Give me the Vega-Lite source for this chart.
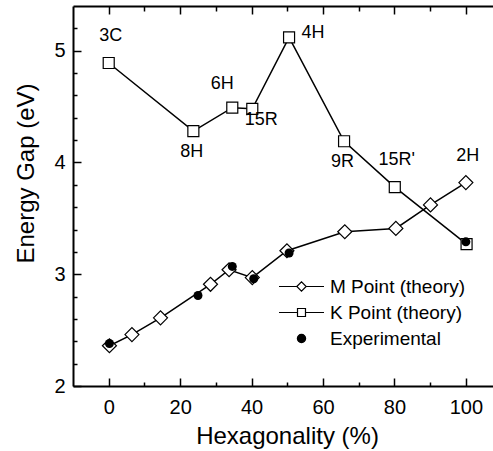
{
  "$schema": "https://vega.github.io/schema/vega-lite/v6.json",
  "width": 420,
  "height": 380,
  "autosize": {"type": "none"},
  "padding": {"left": 73, "top": 6, "right": 0, "bottom": 65},
  "background": "white",
  "config": {
    "view": {"stroke": null},
    "font": "Liberation Sans",
    "axis": {
      "grid": false,
      "domainColor": "black",
      "domainWidth": 2,
      "tickColor": "black",
      "tickWidth": 1.5,
      "labelFont": "Liberation Sans",
      "labelFontSize": 20,
      "labelColor": "black",
      "titleFont": "Liberation Sans",
      "titleFontSize": 24,
      "titleFontWeight": "normal",
      "titleColor": "black"
    },
    "legend": {
      "orient": "none", "legendX": 219, "legendY": 271, "symbolSize": 88,
      "symbolOpacity": 1, "symbolStrokeWidth": 1.2,
      "labelFontSize": 19, "labelFont": "Liberation Sans", "labelColor": "black",
      "labelOffset": 19, "rowPadding": 6, "padding": 0
    },
    "text": {"font": "Liberation Sans", "fontSize": 18, "color": "black"}
  },
  "data": {
    "values": [
      {"series": "M Point (theory)", "x": 0.2, "y": 2.36, "label": ""},
      {"series": "M Point (theory)", "x": 6.5, "y": 2.46, "label": ""},
      {"series": "M Point (theory)", "x": 14.5, "y": 2.61, "label": ""},
      {"series": "M Point (theory)", "x": 28.5, "y": 2.91, "label": ""},
      {"series": "M Point (theory)", "x": 33.7, "y": 3.04, "label": ""},
      {"series": "M Point (theory)", "x": 40.2, "y": 2.97, "label": ""},
      {"series": "M Point (theory)", "x": 49.9, "y": 3.21, "label": ""},
      {"series": "M Point (theory)", "x": 66.1, "y": 3.38, "label": ""},
      {"series": "M Point (theory)", "x": 80.4, "y": 3.41, "label": ""},
      {"series": "M Point (theory)", "x": 90.1, "y": 3.62, "label": ""},
      {"series": "M Point (theory)", "x": 100, "y": 3.82, "label": "2H"},
      {"series": "K Point (theory)", "x": 0, "y": 4.89, "label": "3C"},
      {"series": "K Point (theory)", "x": 23.7, "y": 4.28, "label": "8H"},
      {"series": "K Point (theory)", "x": 34.6, "y": 4.49, "label": "6H"},
      {"series": "K Point (theory)", "x": 40.2, "y": 4.48, "label": "15R"},
      {"series": "K Point (theory)", "x": 50.5, "y": 5.12, "label": "4H"},
      {"series": "K Point (theory)", "x": 65.9, "y": 4.19, "label": "9R"},
      {"series": "K Point (theory)", "x": 80.1, "y": 3.78, "label": "15R'"},
      {"series": "K Point (theory)", "x": 100.2, "y": 3.27, "label": ""},
      {"series": "Experimental", "x": 0.2, "y": 2.38, "label": ""},
      {"series": "Experimental", "x": 25, "y": 2.81, "label": ""},
      {"series": "Experimental", "x": 34.6, "y": 3.07, "label": ""},
      {"series": "Experimental", "x": 40.6, "y": 2.96, "label": ""},
      {"series": "Experimental", "x": 50.5, "y": 3.19, "label": ""},
      {"series": "Experimental", "x": 100, "y": 3.29, "label": ""}
    ]
  },
  "layer": [
    {
      "transform": [{"filter": {"field": "series", "oneOf": ["M Point (theory)", "K Point (theory)"]}}],
      "mark": {"type": "line", "color": "black", "strokeWidth": 1.5},
      "encoding": {
        "x": {"field": "x", "type": "quantitative", "scale": {"domain": [-10, 107.6], "nice": false, "zero": false},
          "axis": {"orient": "bottom", "title": "Hexagonality (%)", "values": [0, 20, 40, 60, 80, 100], "tickSize": -8, "labelPadding": 19, "titlePadding": 7, "titleX": 214}},
        "y": {"field": "y", "type": "quantitative", "scale": {"domain": [2, 5.4], "nice": false, "zero": false},
          "axis": {"orient": "left", "title": "Energy Gap (eV)", "values": [2, 3, 4, 5], "tickSize": -8, "labelPadding": 16, "titlePadding": 15, "titleY": 167}},
        "detail": {"field": "series"}
      }
    },
    {
      "transform": [{"filter": {"field": "series", "oneOf": ["M Point (theory)", "K Point (theory)"]}}],
      "mark": {"type": "point", "filled": true, "fill": "white", "stroke": "black", "strokeWidth": 1.2, "opacity": 1},
      "encoding": {
        "x": {"field": "x", "type": "quantitative", "scale": {"domain": [-10, 107.6], "nice": false, "zero": false},
          "axis": {"orient": "bottom", "title": null, "values": [10, 30, 50, 70, 90], "tickSize": -4, "labels": false, "domain": false}},
        "y": {"field": "y", "type": "quantitative", "scale": {"domain": [2, 5.4], "nice": false, "zero": false},
          "axis": {"orient": "left", "title": null, "values": [2.2, 2.4, 2.6, 2.8, 3.2, 3.4, 3.6, 3.8, 4.2, 4.4, 4.6, 4.8, 5.2], "tickSize": -4, "labels": false, "domain": false}},
        "shape": {"condition": {"test": "datum.series === 'M Point (theory)'", "value": "diamond"}, "value": "square"},
        "size": {"condition": {"test": "datum.series === 'M Point (theory)'", "value": 196}, "value": 121}
      }
    },
    {
      "transform": [{"filter": {"field": "series", "equal": "Experimental"}}],
      "mark": {"type": "circle", "fill": "black", "size": 81, "opacity": 1},
      "encoding": {
        "x": {"field": "x", "type": "quantitative", "scale": {"domain": [-10, 107.6], "nice": false, "zero": false}, "axis": null},
        "y": {"field": "y", "type": "quantitative", "scale": {"domain": [2, 5.4], "nice": false, "zero": false}, "axis": null}
      }
    },
    {
      "mark": {"type": "point", "filled": true, "strokeWidth": 1.2, "opacity": 0, "size": 88},
      "encoding": {
        "x": {"field": "x", "type": "quantitative", "scale": {"domain": [-10, 107.6], "nice": false, "zero": false}, "axis": null},
        "y": {"field": "y", "type": "quantitative", "scale": {"domain": [2, 5.4], "nice": false, "zero": false}, "axis": null},
        "shape": {"field": "series", "type": "nominal",
          "scale": {"domain": ["M Point (theory)", "K Point (theory)", "Experimental"],
            "range": ["M-4.8,0H-1M1,0H4.8M-1,0L0,-1L1,0L0,1Z", "M-4.8,0H-0.85M0.85,0H4.8M-0.85,-0.85H0.85V0.85H-0.85Z", "M0.88,0A0.88,0.88,0,1,1,-0.88,0A0.88,0.88,0,1,1,0.88,0Z"]},
          "legend": {"title": null, "symbolOpacity": 1}},
        "fill": {"field": "series", "type": "nominal",
          "scale": {"domain": ["M Point (theory)", "K Point (theory)", "Experimental"], "range": ["white", "white", "black"]},
          "legend": {"title": null, "symbolOpacity": 1}},
        "stroke": {"field": "series", "type": "nominal",
          "scale": {"domain": ["M Point (theory)", "K Point (theory)", "Experimental"], "range": ["black", "black", "black"]},
          "legend": {"title": null, "symbolOpacity": 1}}
      }
    },
    {
      "transform": [{"filter": {"field": "label", "oneOf": ["3C", "15R'", "2H"]}}],
      "mark": {"type": "text", "dx": 2, "dy": -27, "align": "center", "baseline": "middle"},
      "encoding": {
        "x": {"field": "x", "type": "quantitative", "scale": {"domain": [-10, 107.6], "nice": false, "zero": false},
          "axis": {"orient": "top", "title": null, "values": [0, 20, 40, 60, 80, 100], "tickSize": -8, "labels": false}},
        "y": {"field": "y", "type": "quantitative", "scale": {"domain": [2, 5.4], "nice": false, "zero": false}, "axis": null},
        "text": {"field": "label"}
      }
    },
    {
      "transform": [{"filter": {"field": "label", "oneOf": ["6H"]}}],
      "mark": {"type": "text", "dx": -10, "dy": -24, "align": "center", "baseline": "middle"},
      "encoding": {
        "x": {"field": "x", "type": "quantitative", "scale": {"domain": [-10, 107.6], "nice": false, "zero": false},
          "axis": {"orient": "top", "title": null, "values": [10, 30, 50, 70, 90], "tickSize": -5, "labels": false, "domain": false}},
        "y": {"field": "y", "type": "quantitative", "scale": {"domain": [2, 5.4], "nice": false, "zero": false}, "axis": null},
        "text": {"field": "label"}
      }
    },
    {
      "transform": [{"filter": {"field": "label", "oneOf": ["8H", "9R"]}}],
      "mark": {"type": "text", "dx": -1.5, "dy": 21, "align": "center", "baseline": "middle"},
      "encoding": {
        "x": {"field": "x", "type": "quantitative", "scale": {"domain": [-10, 107.6], "nice": false, "zero": false}, "axis": null},
        "y": {"field": "y", "type": "quantitative", "scale": {"domain": [2, 5.4], "nice": false, "zero": false}, "axis": null},
        "text": {"field": "label"}
      }
    },
    {
      "transform": [{"filter": {"field": "label", "oneOf": ["15R"]}}],
      "mark": {"type": "text", "dx": 9, "dy": 11, "align": "center", "baseline": "middle"},
      "encoding": {
        "x": {"field": "x", "type": "quantitative", "scale": {"domain": [-10, 107.6], "nice": false, "zero": false}, "axis": null},
        "y": {"field": "y", "type": "quantitative", "scale": {"domain": [2, 5.4], "nice": false, "zero": false}, "axis": null},
        "text": {"field": "label"}
      }
    },
    {
      "transform": [{"filter": {"field": "label", "oneOf": ["4H"]}}],
      "mark": {"type": "text", "dx": 24, "dy": -4, "align": "center", "baseline": "middle"},
      "encoding": {
        "x": {"field": "x", "type": "quantitative", "scale": {"domain": [-10, 107.6], "nice": false, "zero": false}, "axis": null},
        "y": {"field": "y", "type": "quantitative", "scale": {"domain": [2, 5.4], "nice": false, "zero": false}, "axis": null},
        "text": {"field": "label"}
      }
    }
  ],
  "resolve": {"axis": {"x": "independent", "y": "independent"}}
}
